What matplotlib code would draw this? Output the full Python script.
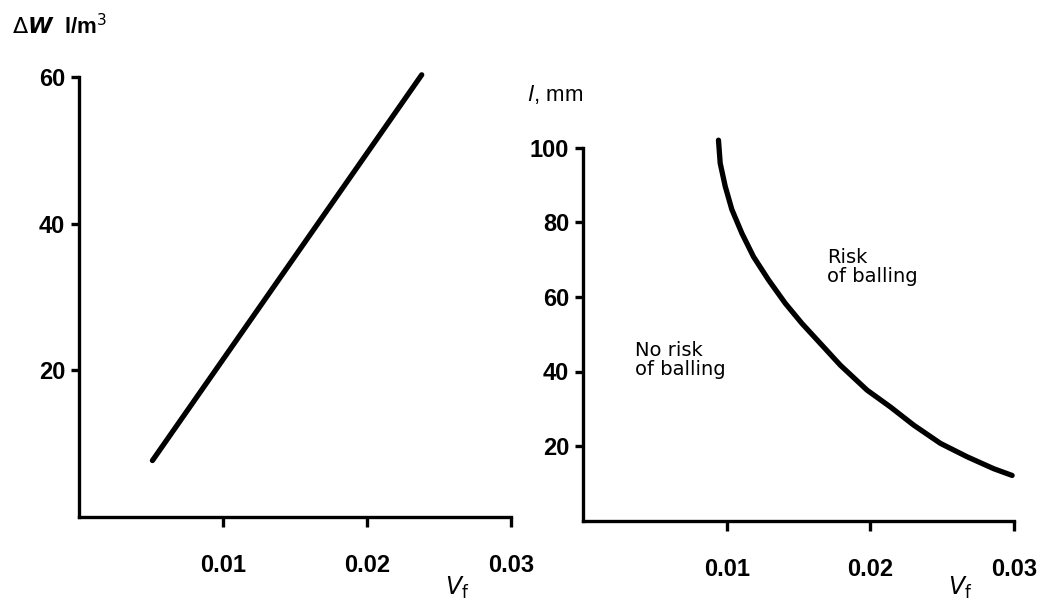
import matplotlib
matplotlib.use("Agg")
import matplotlib.pyplot as plt

# left panel: extra water demand vs fibre volume fraction
vf_left = [0.0051, 0.0238]
dw = [7.7, 60.3]

# right panel: critical fibre length vs fibre volume fraction
vf_right = [0.00943, 0.00955, 0.00990, 0.01036, 0.01106, 0.01187, 0.01291,
            0.01408, 0.01524, 0.01629, 0.01791, 0.01977, 0.02139, 0.02302,
            0.02488, 0.02674, 0.02859, 0.02987]
length = [102.1, 95.9, 89.7, 83.5, 77.1, 70.8, 64.6, 58.3, 52.9, 48.5,
          41.7, 35.0, 30.5, 25.6, 20.7, 17.1, 13.9, 12.1]

x_ticks = [0.01, 0.02, 0.03]
x_ticklabels = ["0.01", "0.02", "0.03"]
left_yticks = [20, 40, 60]
right_yticks = [20, 40, 60, 80, 100]

W, H = 1045, 607
fig = plt.figure(figsize=(W / 100, H / 100), dpi=100)
plt.rcParams['font.family'] = ['Liberation Sans', 'DejaVu Sans']


def px(x0, y0, x1, y1):
    return [x0 / W, 1 - y1 / H, (x1 - x0) / W, (y1 - y0) / H]


def style(ax, yticks, ymax):
    ax.set_xlim(0, 0.03)
    ax.set_ylim(0, ymax)
    for s in ("top", "right"):
        ax.spines[s].set_visible(False)
    for s in ("left", "bottom"):
        ax.spines[s].set_linewidth(2.4)
    ax.set_xticks(x_ticks)
    ax.set_xticklabels(x_ticklabels)
    ax.set_yticks(yticks)
    ax.tick_params(axis="x", length=7, width=2.4, pad=20, labelsize=17)
    ax.tick_params(axis="y", length=6, width=2.4, pad=4, labelsize=17)
    for lab in ax.get_xticklabels() + ax.get_yticklabels():
        lab.set_fontweight("bold")


ax1 = fig.add_axes(px(79, 77, 511, 517))
ax1.plot(vf_left, dw, color="black", lw=3.8, solid_capstyle="round",
         clip_on=False)
style(ax1, left_yticks, 60)

ax2 = fig.add_axes(px(583, 148, 1014, 520.5))
ax2.plot(vf_right, length, color="black", lw=3.8, solid_capstyle="round",
         solid_joinstyle="round", clip_on=False)
style(ax2, right_yticks, 100)

fig.text(12 / W, 1 - 27 / H, r"$\Delta\boldsymbol{W}$  l/m$^3$", fontsize=16,
         fontweight="bold", va="center", ha="left")
fig.text(527 / W, 1 - 95 / H, r"$\mathit{l}$, mm", fontsize=16,
         va="center", ha="left")
fig.text(445 / W, 1 - 588 / H, r"$\mathit{V}_\mathrm{f}$", fontsize=17,
         va="center", ha="left")
fig.text(948 / W, 1 - 588 / H, r"$\mathit{V}_\mathrm{f}$", fontsize=17,
         va="center", ha="left")

fig.text(827 / W, 1 - 267 / H, "Risk\nof balling", fontsize=14,
         family="DejaVu Sans", va="center", ha="left", linespacing=1.0)
fig.text(635 / W, 1 - 360 / H, "No risk\nof balling", fontsize=14,
         family="DejaVu Sans", va="center", ha="left", linespacing=1.0)

fig.savefig("out.png", dpi=100)
